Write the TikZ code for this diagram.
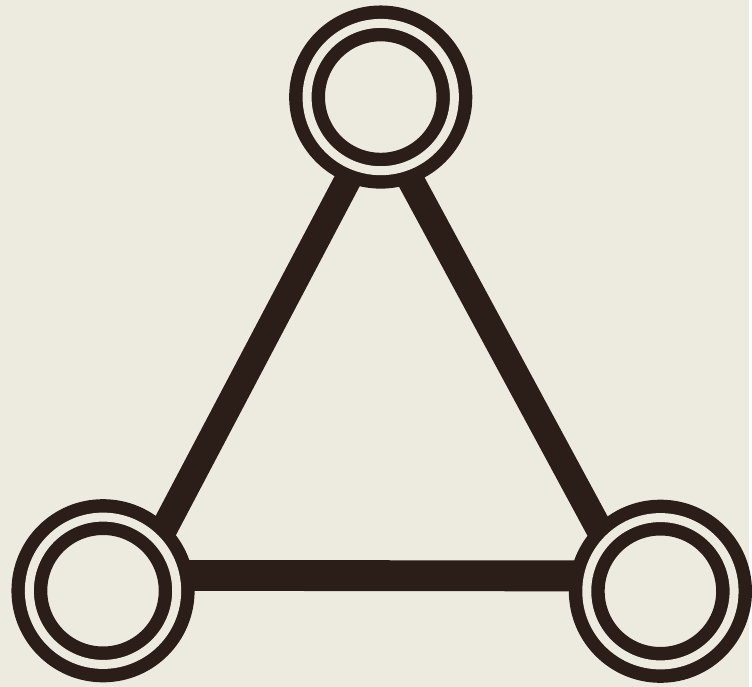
\documentclass[tikz,border=0pt]{standalone}
\usepackage{tikz}
\usetikzlibrary{backgrounds}
\usepackage{xcolor}
\definecolor{paper}{HTML}{EDEBE0}
\definecolor{ink}{HTML}{2B1D17}

\begin{document}
\begin{tikzpicture}[x=1pt, y=-1pt,
  ring/.style={circle, draw=ink, fill=paper, double=paper, double distance=9pt,
               line width=13.5pt, minimum size=148pt, inner sep=0pt},
  bar/.style={draw=ink, line width=27pt, shorten <=-22pt, shorten >=-22pt}]

  % ---- Three rings ----
  \node[ring] (top) at (382.5, 97.5) {};
  \node[ring] (left) at (103.5, 593.5) {};
  \node[ring] (right) at (663.5, 594) {};

  \begin{scope}[on background layer]
    % ---- Paper ----
    \fill[paper] (0,0) rectangle (752,690);

    % ---- Bars between the rings ----
    \draw[bar] (top.249) -- (left.44);
    \draw[bar] (top.289) -- (right.136);
    \draw[bar, line width=31pt] (left.11) -- (right.169);
  \end{scope}
\end{tikzpicture}
\end{document}
